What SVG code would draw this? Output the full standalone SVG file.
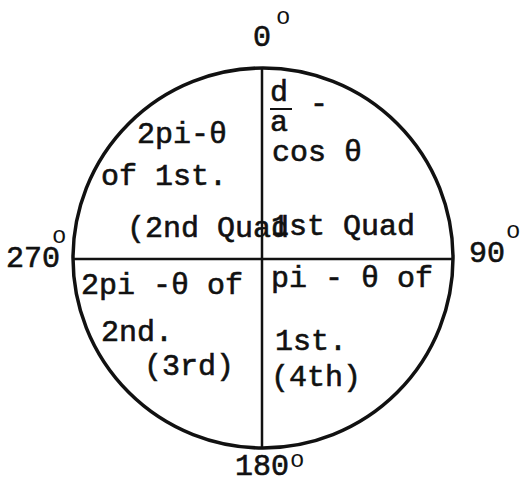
<svg xmlns="http://www.w3.org/2000/svg" width="531" height="487" viewBox="0 0 531 487">
<style>
.t{font-family:"Liberation Mono","DejaVu Sans Mono",monospace;font-size:30px;fill:#111;stroke:#111;stroke-width:0.6}
.s{font-family:"Liberation Mono","DejaVu Sans Mono",monospace;font-size:24px;fill:#111}
.ln{stroke:#111;fill:none}
</style>
<rect width="531" height="487" fill="#fff"/>
<g id="circle"><circle class="ln" cx="263" cy="258" r="190" stroke-width="3.5"/></g>
<g id="axes">
<line class="ln" x1="262" y1="68" x2="262" y2="448" stroke-width="2.5"/>
<line class="ln" x1="73" y1="259" x2="453" y2="259" stroke-width="2.5"/>
</g>
<g id="labels-deg">
<text class="t" x="253" y="46">0</text><text class="s" x="276" y="24">o</text>
<text class="t" x="6" y="267">270</text><text class="s" x="52" y="243">o</text>
<text class="t" x="469" y="262">90</text><text class="s" x="506" y="238">o</text>
<text class="t" x="235" y="475">180</text><text class="s" x="290" y="467">o</text>
</g>
<g id="q-upper-left">
<text class="t" x="137" y="143">2pi-θ</text>
<text class="t" x="101" y="185">of 1st.</text>
<text class="t" x="127" y="237">(2nd Quad</text>
</g>
<g id="q-upper-right">
<text class="t" x="270" y="101">d</text>
<line class="ln" x1="270" y1="109" x2="292" y2="109" stroke-width="2"/>
<text class="t" x="310" y="113">-</text>
<text class="t" x="270" y="131">a</text>
<text class="t" x="272" y="161">cos θ</text>
<text class="t" x="271" y="235">1st Quad</text>
</g>
<g id="q-lower-left">
<text class="t" x="81" y="294">2pi -θ of</text>
<text class="t" x="101" y="341">2nd.</text>
<text class="t" x="144" y="375">(3rd)</text>
</g>
<g id="q-lower-right">
<text class="t" x="271" y="287">pi - θ of</text>
<text class="t" x="275" y="350">1st.</text>
<text class="t" x="271" y="386">(4th)</text>
</g>
</svg>
